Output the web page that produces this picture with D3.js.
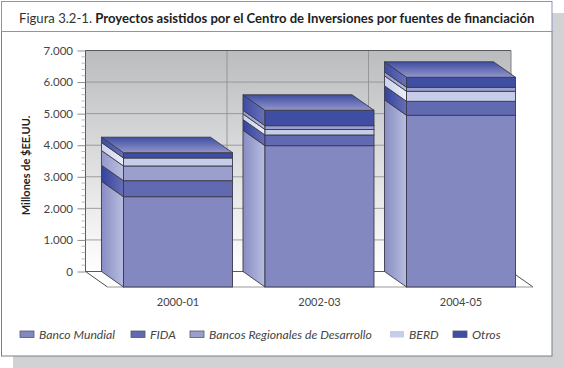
<!DOCTYPE html>
<html>
<head>
<meta charset="utf-8">
<script src="https://cdn.jsdelivr.net/npm/d3@7"></script>
<style>
html, body { margin: 0; padding: 0; background: #fff; }
svg { display: block; }
</style>
</head>
<body>
<svg></svg>
<script>
var categories = ["2000-01", "2002-03", "2004-05"];
var seriesNames = ["Banco Mundial", "FIDA", "Bancos Regionales de Desarrollo", "BERD", "Otros"];

var bancoMundial = [2860, 4476, 5439];
var fida = [507, 339, 443];
var bancosRegionales = [466, 120, 126];
var berd = [253, 174, 317];
var otros = [168, 488, 317];
var seriesValues = [bancoMundial, fida, bancosRegionales, berd, otros];

// bottom to top: the first column stacks the middle layers the other way round
var stackOrder = [[0, 1, 2, 3, 4], [0, 1, 3, 2, 4], [0, 1, 3, 2, 4]];

var yTicks = [0, 1000, 2000, 3000, 4000, 5000, 6000, 7000];
var minorTicks = d3.range(0, 7000, 200);

var frontColors = ["#8488c0", "#6169b0", "#9a9fce", "#c5cde8", "#3f4ea2"];
var sideFrom = ["#888cc3", "#33439d", "#9497c9", "#c9d0ea", "#3c4ca2"];
var sideTo = ["#b7bedf", "#686eb6", "#b9c0e0", "#eceffa", "#6a70b6"];

var svgWidth = 564, svgHeight = 368;
var wall = { left: 85.5, right: 511, top: 50.5, bottom: 271.5 };
var depthX = 22, depthY = 15.5;

var svg = d3.select("svg")
    .attr("width", svgWidth)
    .attr("height", svgHeight)
    .style("font-family", "Lato");

var defs = svg.append("defs");

function linear(id, x2, y2, from, to) {
    var grad = defs.append("linearGradient").attr("id", id)
        .attr("x1", 0).attr("y1", 0).attr("x2", x2).attr("y2", y2);
    grad.append("stop").attr("offset", 0).attr("stop-color", from);
    grad.append("stop").attr("offset", 1).attr("stop-color", to);
}

linear("wallGrad", 0, 1, "#bbbcbe", "#ffffff");
linear("topGrad", 0, 1, "#3f4ea2", "#9296ca");
seriesNames.forEach(function(d, i) {
    linear("side" + i, 1, 0, sideFrom[i], sideTo[i]);
});

// page shadow and panel
svg.append("rect").attr("x", 13).attr("y", 13)
    .attr("width", svgWidth - 13).attr("height", svgHeight - 13)
    .attr("fill", "#d1d2d4");
svg.append("rect").attr("x", 1.5).attr("y", 31.5)
    .attr("width", 550.5).attr("height", 324.5)
    .attr("fill", "#fff").attr("stroke", "#7f7f82").attr("stroke-width", 1);
svg.append("rect").attr("x", 1.5).attr("y", 1.5)
    .attr("width", 550.5).attr("height", 30)
    .attr("fill", "#fff").attr("stroke", "#8d8fc6").attr("stroke-width", 1);

var title = svg.append("text").attr("x", 19).attr("y", 23)
    .attr("font-size", 13.1).attr("fill", "#222");
title.append("tspan").attr("fill", "#333").text("Figura 3.2-1. ");
title.append("tspan").attr("font-weight", 700).text("Proyectos asistidos por el Centro de Inversiones por fuentes de financiación");

var x = d3.scaleBand()
    .domain(categories)
    .range([wall.left, wall.right - 1.5])
    .paddingInner(0.2297)
    .paddingOuter(0.113);

var y = d3.scaleLinear()
    .domain([0, 7000])
    .range([wall.bottom, wall.top]);

// back wall
svg.append("rect")
    .attr("x", wall.left).attr("y", wall.top)
    .attr("width", wall.right - wall.left).attr("height", wall.bottom - wall.top)
    .attr("fill", "url(#wallGrad)");

var grid = svg.append("g").attr("fill", "none").attr("stroke", "#8b8c8e").attr("stroke-width", 0.8);
yTicks.forEach(function(d) {
    grid.append("line")
        .attr("x1", wall.left).attr("x2", wall.right)
        .attr("y1", y(d)).attr("y2", y(d));
});
[x(categories[1]) - x.step() * 0.113, x(categories[2]) - x.step() * 0.113].forEach(function(d) {
    grid.append("line")
        .attr("x1", d).attr("x2", d)
        .attr("y1", wall.top).attr("y2", wall.bottom);
});

// floor
svg.append("path")
    .attr("d", d3.line()([
        [wall.left, wall.bottom],
        [wall.left + depthX, wall.bottom + depthY],
        [wall.right + depthX, wall.bottom + depthY],
        [wall.right, wall.bottom]
    ]) + "Z")
    .attr("fill", "#fff");

svg.append("path")
    .attr("d", d3.line()([
        [wall.right, wall.top],
        [wall.left, wall.top],
        [wall.left, wall.bottom],
        [wall.right, wall.bottom]
    ]))
    .attr("fill", "none").attr("stroke", "#58595b").attr("stroke-width", 1);

svg.append("line")
    .attr("x1", wall.right).attr("x2", wall.right)
    .attr("y1", wall.top).attr("y2", wall.bottom)
    .attr("stroke", "#808184").attr("stroke-width", 1);

svg.append("path")
    .attr("d", d3.line()([
        [wall.left, wall.bottom],
        [wall.left + depthX, wall.bottom + depthY]
    ]))
    .attr("fill", "none").attr("stroke", "#3a3a3c").attr("stroke-width", 0.9);

svg.append("path")
    .attr("d", d3.line()([
        [wall.right, wall.bottom],
        [wall.right + depthX, wall.bottom + depthY]
    ]))
    .attr("fill", "none").attr("stroke", "#3a3a3c").attr("stroke-width", 0.9);

svg.append("line")
    .attr("x1", wall.left + depthX).attr("x2", wall.right + depthX)
    .attr("y1", wall.bottom + depthY).attr("y2", wall.bottom + depthY)
    .attr("stroke", "#99999c").attr("stroke-width", 1.2);

// y axis
var yAxis = d3.axisLeft(y)
    .tickValues(yTicks)
    .tickSize(8)
    .tickFormat(function(d) { return d3.format(",")(d).replace(",", "."); });

var yAxisG = svg.append("g")
    .attr("transform", "translate(" + wall.left + ",0)")
    .call(yAxis);
yAxisG.select(".domain").remove();
yAxisG.selectAll("line").attr("stroke", "#8b8c8e");
yAxisG.selectAll("text")
    .attr("font-size", 11.5).attr("fill", "#444").attr("font-family", "Lato").attr("x", -12.5);

svg.append("g").selectAll("line")
    .data(minorTicks.filter(function(d) { return d % 1000 !== 0; }))
    .enter().append("line")
    .attr("x1", wall.left - 4).attr("x2", wall.left)
    .attr("y1", function(d) { return y(d); })
    .attr("y2", function(d) { return y(d); })
    .attr("stroke", "#a7a8aa").attr("stroke-width", 0.8);

svg.append("text")
    .attr("transform", "translate(30,165.5) rotate(-90)")
    .attr("text-anchor", "middle")
    .attr("font-size", 11).attr("font-weight", 700).attr("fill", "#222")
    .text("Millones de $EE.UU.");

// columns
var edge = "#3a3a4a";
var bars = svg.selectAll(".bar")
    .data(categories)
    .enter().append("g")
    .attr("class", "bar");

bars.each(function(cat, c) {
    var g = d3.select(this);
    var x0 = x(cat), x1 = x0 + x.bandwidth();
    var sum = 0;

    stackOrder[c].forEach(function(s) {
        var lo = sum, hi = sum + seriesValues[s][c];
        sum = hi;

        // side face
        g.append("path")
            .attr("d", d3.line()([
                [x0, y(lo)],
                [x0 + depthX, y(lo) + depthY],
                [x0 + depthX, y(hi) + depthY],
                [x0, y(hi)]
            ]) + "Z")
            .attr("fill", "url(#side" + s + ")")
            .attr("stroke", edge).attr("stroke-width", 0.9);

        // front face
        g.append("rect")
            .attr("x", x0 + depthX).attr("y", y(hi) + depthY)
            .attr("width", x1 - x0).attr("height", y(lo) - y(hi))
            .attr("fill", frontColors[s])
            .attr("stroke", edge).attr("stroke-width", 0.9);
    });

    // top face
    g.append("path")
        .attr("d", d3.line()([
            [x0, y(sum)],
            [x1, y(sum)],
            [x1 + depthX, y(sum) + depthY],
            [x0 + depthX, y(sum) + depthY]
        ]) + "Z")
        .attr("fill", "url(#topGrad)")
        .attr("stroke", edge).attr("stroke-width", 0.9);
});

// category labels
svg.selectAll(".cat")
    .data(categories)
    .enter().append("text")
    .attr("class", "cat")
    .attr("x", function(d) { return x(d) + depthX + x.bandwidth() / 2; })
    .attr("y", 306)
    .attr("text-anchor", "middle")
    .attr("font-size", 11).attr("fill", "#444")
    .text(function(d) { return d; });

// legend
var legendX = [20, 131, 190, 390, 453];
var legend = svg.selectAll(".legend")
    .data(seriesNames)
    .enter().append("g")
    .attr("class", "legend")
    .attr("transform", function(d, i) { return "translate(" + legendX[i] + ",331)"; });

legend.append("rect")
    .attr("x", 0).attr("y", 0)
    .attr("width", 14).attr("height", 6.5)
    .attr("fill", function(d, i) { return frontColors[i]; })
    .attr("stroke", function(d, i) { return i == 3 ? "none" : "#55566a"; })
    .attr("stroke-width", 0.8);

legend.append("text")
    .attr("x", 19).attr("y", 7.5)
    .attr("font-size", 12.2).attr("font-style", "italic").attr("fill", "#444")
    .text(function(d) { return d; });
</script>
</body>
</html>
